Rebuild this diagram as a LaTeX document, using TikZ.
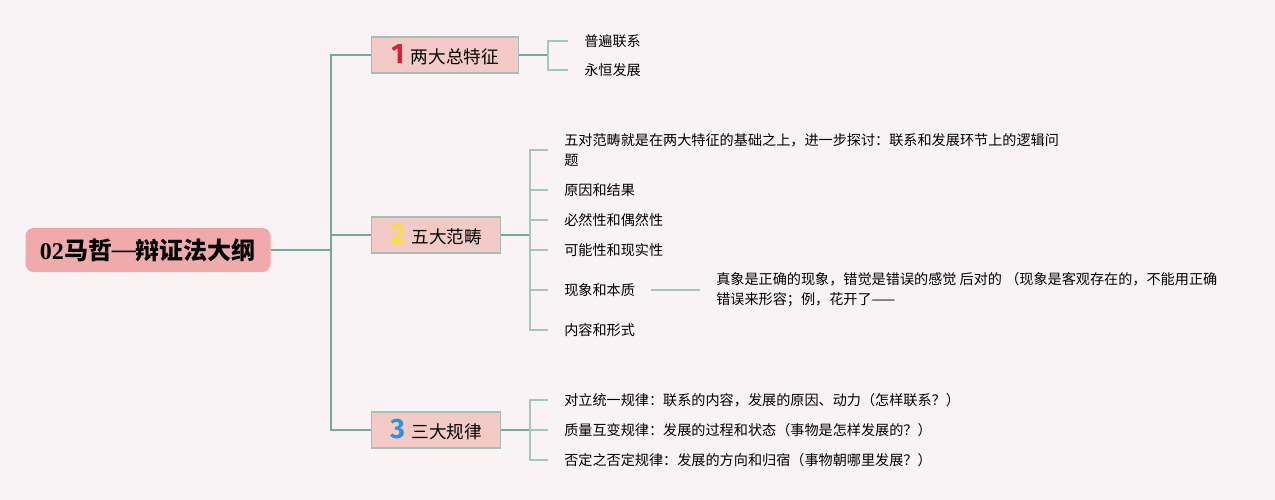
\documentclass[tikz,border=0pt]{standalone}
\usepackage{fontspec}
\usepackage{xcolor}
\usetikzlibrary{positioning}
\newfontfamily\cjk{Noto Sans CJK SC}
\newfontfamily\numfont{Fira Sans}
\newfontfamily\rootlatin{Liberation Serif}
\definecolor{bgpink}{RGB}{250,243,245}
\definecolor{rootpink}{RGB}{240,170,172}
\definecolor{boxpink}{RGB}{244,202,198}
\definecolor{boxedge}{RGB}{165,190,182}
\definecolor{linemain}{RGB}{118,168,155}
\definecolor{linesub}{RGB}{165,198,188}
\definecolor{numred}{RGB}{222,28,52}
\definecolor{numyellow}{RGB}{246,222,70}
\definecolor{numblue}{RGB}{38,150,222}
\newcommand{\topicnum}[2]{{\numfont\bfseries\fontsize{21}{21}\selectfont\color{#1}#2}\hspace{5pt}}

\begin{document}
\begin{tikzpicture}[x=0.75pt,y=-0.75pt,
  rootbox/.style={rectangle, fill=rootpink, rounded corners=6pt, minimum width=183.75pt, minimum height=33pt, inner sep=0pt},
  topicbox/.style={rectangle, draw=boxedge, fill=boxpink, line width=0.9pt, minimum height=27pt, inner xsep=0pt, inner ysep=0pt, anchor=west, font=\cjk\fontsize{13.2}{16}\selectfont},
  leaf/.style={anchor=west, align=left, inner xsep=12pt, inner ysep=1pt, font=\cjk\fontsize{10.6}{15}\selectfont},
  mainline/.style={draw=linemain, line width=1.4pt},
  subline/.style={draw=linesub, line width=1.2pt}]
\fill[bgpink] (0,0) rectangle (1275,500);

% root and trunk
\node[rootbox] (root) at (148,250) {{\rootlatin\bfseries\fontsize{18}{20}\selectfont 02}{\cjk\bfseries\fontsize{18}{20}\selectfont 马哲}{\rootlatin\bfseries\fontsize{18}{20}\selectfont\raisebox{1pt}{—}}{\cjk\bfseries\fontsize{18}{20}\selectfont 辩证法大纲}};
\coordinate (trunk) at (331,250);
\draw[mainline] (root.east) -- (trunk);

\node[topicbox, minimum width=110.25pt] (t1) at (371,55) {\topicnum{numred}{1}两大总特征};
\node[topicbox, minimum width=96.75pt] (t2) at (371,235) {\topicnum{numyellow}{2}五大范畴};
\node[topicbox, minimum width=96.75pt] (t3) at (371,430) {\topicnum{numblue}{3}三大规律};
\draw[mainline] (trunk) |- (t1.west);
\draw[mainline] (trunk) |- (t2.west);
\draw[mainline] (trunk) |- (t3.west);

% two features
\coordinate (j1) at (548,55);
\node[leaf] (a1) at (568,41) {普遍联系};
\node[leaf] (a2) at (568,70) {永恒发展};
\draw[mainline] (t1.east) -- (j1);
\draw[subline] (j1) |- (a1.west);
\draw[subline] (j1) |- (a2.west);

% five categories
\coordinate (j2) at (530,235);
\node[leaf] (b1) at (548,150) {五对范畴就是在两大特征的基础之上，进一步探讨：联系和发展环节上的逻辑问\\题};
\node[leaf] (b2) at (548,190) {原因和结果};
\node[leaf] (b3) at (548,220) {必然性和偶然性};
\node[leaf] (b4) at (548,250) {可能性和现实性};
\node[leaf] (b5) at (548,290) {现象和本质};
\node[leaf] (b6) at (548,330) {内容和形式};
\node[leaf] (b5x) at (700,290) {真象是正确的现象，错觉是错误的感觉 后对的 （现象是客观存在的，不能用正确\\错误来形容；例，花开了——};
\draw[mainline] (t2.east) -- (j2);
\foreach \n in {b1,b2,b3,b4,b5,b6}
  \draw[subline] (j2) |- (\n.west);
\draw[subline] (b5.east) -- (b5x.west);

% three laws
\coordinate (j3) at (530,430);
\node[leaf] (c1) at (548,400) {对立统一规律：联系的内容，发展的原因、动力（怎样联系？）};
\node[leaf] (c2) at (548,430) {质量互变规律：发展的过程和状态（事物是怎样发展的？）};
\node[leaf] (c3) at (548,460) {否定之否定规律：发展的方向和归宿（事物朝哪里发展？）};
\draw[mainline] (t3.east) -- (j3);
\foreach \n in {c1,c2,c3}
  \draw[subline] (j3) |- (\n.west);
\end{tikzpicture}
\end{document}
